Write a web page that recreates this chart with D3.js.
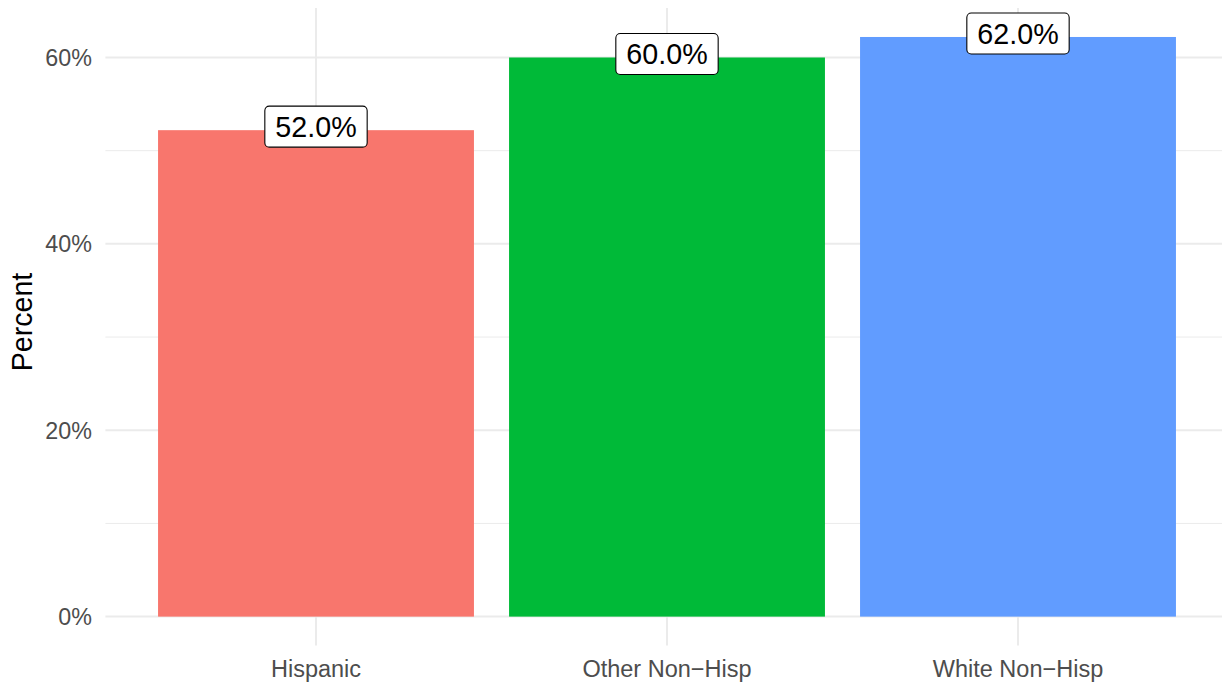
<!DOCTYPE html>
<html>
<head>
<meta charset="utf-8">
<script src="https://cdn.jsdelivr.net/npm/d3@7"></script>
<style>
  html, body { margin: 0; padding: 0; background: #fff; }
  svg { display: block; font-family: "Liberation Sans", Arial, sans-serif; }
</style>
</head>
<body>
<div id="chart"></div>
<script>
const categories = ["Hispanic", "Other Non\u2212Hisp", "White Non\u2212Hisp"];
const values = [0.522, 0.600, 0.622];
const labels = ["52.0%", "60.0%", "62.0%"];
const colors = ["#F8766D", "#00BA38", "#619CFF"];
const majorTicks = [0, 0.2, 0.4, 0.6];
const minorTicks = [0.1, 0.3, 0.5];

const width = 1222;
const height = 686;
const panel = { left: 105.4, right: 1228.6, top: 8, bottom: 645.6 };

const svg = d3.select("#chart")
  .append("svg")
  .attr("width", width)
  .attr("height", height);

const x = d3.scaleBand()
  .domain(categories)
  .range([panel.left, panel.right])
  .paddingInner(0.1)
  .paddingOuter(0.15);

// ggplot-style 5% expansion around [0, max]
const maxVal = d3.max(values);
const y = d3.scaleLinear()
  .domain([-0.05 * maxVal, maxVal * 1.05])
  .range([panel.bottom, panel.top]);

const grid = svg.append("g");

grid.selectAll(".minor")
  .data(minorTicks)
  .join("line")
  .attr("x1", panel.left)
  .attr("x2", panel.right)
  .attr("y1", (d) => y(d))
  .attr("y2", (d) => y(d))
  .attr("stroke", "#EBEBEB")
  .attr("stroke-width", 1);

grid.selectAll(".major-y")
  .data(majorTicks)
  .join("line")
  .attr("x1", panel.left)
  .attr("x2", panel.right)
  .attr("y1", (d) => y(d))
  .attr("y2", (d) => y(d))
  .attr("stroke", "#EBEBEB")
  .attr("stroke-width", 2);

grid.selectAll(".major-x")
  .data(categories)
  .join("line")
  .attr("x1", (d) => x(d) + x.bandwidth() / 2)
  .attr("x2", (d) => x(d) + x.bandwidth() / 2)
  .attr("y1", panel.top)
  .attr("y2", panel.bottom)
  .attr("stroke", "#EBEBEB")
  .attr("stroke-width", 2);

svg.append("g")
  .selectAll("rect")
  .data(values)
  .join("rect")
  .attr("x", (d, i) => x(categories[i]))
  .attr("width", x.bandwidth())
  .attr("y", (d) => y(d))
  .attr("height", (d) => y(0) - y(d))
  .attr("fill", (d, i) => colors[i]);

// y tick labels
svg.append("g")
  .selectAll("text")
  .data(majorTicks)
  .join("text")
  .attr("x", 92)
  .attr("y", (d) => y(d) + 8.4)
  .attr("text-anchor", "end")
  .attr("font-size", 23.3)
  .attr("fill", "#4D4D4D")
  .text((d) => d3.format(".0%")(d));

// x tick labels
svg.append("g")
  .selectAll("text")
  .data(categories)
  .join("text")
  .attr("x", (d) => x(d) + x.bandwidth() / 2)
  .attr("y", 677)
  .attr("text-anchor", "middle")
  .attr("font-size", 23.5)
  .attr("fill", "#4D4D4D")
  .text((d) => d);

svg.append("text")
  .attr("transform", "translate(31.5, 322) rotate(-90)")
  .attr("text-anchor", "middle")
  .attr("font-size", 28.6)
  .attr("fill", "#000")
  .text("Percent");

// value labels (geom_label style)
const labelFont = 28.7;
const labelG = svg.append("g")
  .selectAll("g")
  .data(values)
  .join("g")
  .attr("transform", (d, i) => `translate(${x(categories[i]) + x.bandwidth() / 2}, ${y(d) - 3.5})`);

const labelRects = labelG.append("rect")
  .attr("fill", "#fff")
  .attr("stroke", "#000")
  .attr("stroke-width", 1.1)
  .attr("rx", 4.5);

labelG.append("text")
  .attr("text-anchor", "middle")
  .attr("y", labelFont * 0.716 / 2)
  .attr("font-size", labelFont)
  .attr("fill", "#000")
  .text((d, i) => labels[i]);

labelG.each(function () {
  const g = d3.select(this);
  const bb = g.select("text").node().getBBox();
  const w = bb.width + 21;
  const h = 41;
  g.select("rect")
    .attr("x", -w / 2)
    .attr("y", -h / 2)
    .attr("width", w)
    .attr("height", h);
});
</script>
</body>
</html>
